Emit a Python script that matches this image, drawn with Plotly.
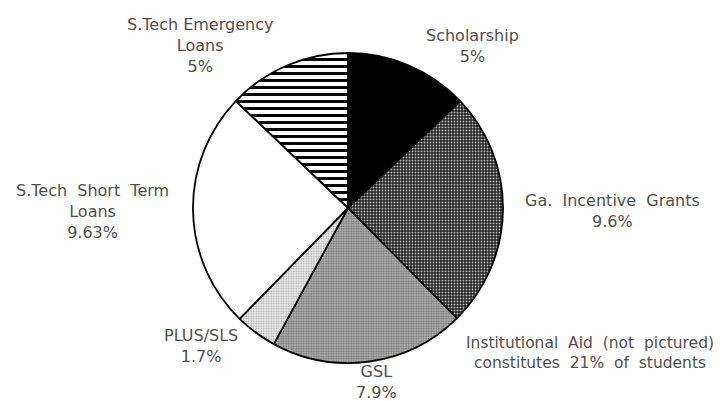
import plotly.graph_objects as go

# ---- data ----
categories = ["Scholarship", "Ga. Incentive Grants", "GSL", "PLUS/SLS",
              "S.Tech Short Term Loans", "S.Tech Emergency Loans"]
label_text = ["Scholarship", "Ga.\u00a0 Incentive\u00a0 Grants", "GSL", "PLUS/SLS",
              "S.Tech\u00a0 Short\u00a0 Term<br>Loans", "S.Tech Emergency<br>Loans"]
values = [5, 9.6, 7.9, 1.7, 9.63, 5]
value_labels = ["5%", "9.6%", "7.9%", "1.7%", "9.63%", "5%"]
note_text = "Institutional\u00a0 Aid\u00a0 (not\u00a0 pictured)<br>constitutes\u00a0 21%\u00a0 of\u00a0 students"

# ---- styles ----
W, H = 723, 401
cx, cy, r = 348, 208, 155

colors = ["#000000", "#3a3a3a", "#9a9a9a", "#dcdcdc", "#ffffff", "#ffffff"]
pat_shapes = ["", ".", ".", ".", "", "-"]
pat_bg = ["#000000", "#222222", "#b0b0b0", "#ececec", "#ffffff", "#ffffff"]
pat_fg = ["#000000", "#b8b8b8", "#6c6c6c", "#a8a8a8", "#ffffff", "#000000"]
pat_size = [4, 3, 2.5, 2.5, 4, 7]
pat_sol = [0.3, 0.33, 0.4, 0.35, 0.3, 0.42]

fig = go.Figure(go.Pie(
    labels=categories,
    values=values,
    sort=False,
    direction="clockwise",
    rotation=0,
    textinfo="none",
    hoverinfo="label+value",
    showlegend=False,
    marker=dict(
        colors=colors,
        line=dict(color="#000000", width=1.8),
        pattern=dict(shape=pat_shapes, bgcolor=pat_bg, fgcolor=pat_fg,
                     size=pat_size, solidity=pat_sol, fillmode="replace"),
    ),
    domain=dict(x=[(cx - r) / W, (cx + r) / W],
                y=[1 - (cy + r) / H, 1 - (cy - r) / H]),
))

# label centres (page pixels)
label_pos = [(472, 46), (612, 211), (376, 382), (201, 346), (92, 211), (200, 45)]

FONT = dict(family="DejaVu Sans", size=16, color="#505050")
annotations = []
for name, val, (px, py) in zip(label_text, value_labels, label_pos):
    annotations.append(dict(
        text=f"{name}<br>{val}", x=px / W, y=1 - py / H, xref="paper", yref="paper",
        xanchor="center", yanchor="middle", showarrow=False, align="center",
        font=FONT,
    ))
annotations.append(dict(
    text=note_text, x=590 / W, y=1 - 353 / H, xref="paper", yref="paper",
    xanchor="center", yanchor="middle", showarrow=False, align="center",
    font=dict(family="DejaVu Sans", size=15.5, color="#505050"),
))

fig.update_layout(
    width=W, height=H,
    margin=dict(l=0, r=0, t=0, b=0),
    paper_bgcolor="white", plot_bgcolor="white",
    annotations=annotations,
)

fig.write_html("out.html", config={"displayModeBar": False},
               post_script="document.body.style.margin='0';document.body.style.overflow='hidden';")
